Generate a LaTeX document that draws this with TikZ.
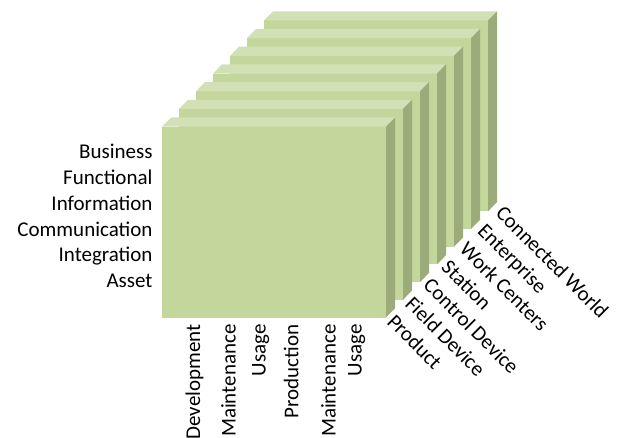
\documentclass[tikz,border=0pt]{standalone}
\usepackage{fontspec}
\setmainfont{Carlito}
\definecolor{slabfront}{HTML}{C3D69B}
\definecolor{slabtop}{HTML}{D2E1B5}
\definecolor{slabside}{HTML}{9BAC7A}
\begin{document}
\begin{tikzpicture}[x=1pt,y=-1pt,
  lbl/.style={font=\fontsize{21}{25}\selectfont, inner sep=0pt, text=black},
  layerlbl/.style={lbl, anchor=base east},
  phaselbl/.style={lbl, rotate=90, anchor=base east},
  levellbl/.style={lbl, rotate=-45, anchor=base west}]
\useasboundingbox (0,0) rectangle (620,438);

% stacked slabs, drawn from the back one to the front one
\foreach \k in {6,5,...,0}{
  \begin{scope}[shift={(17*\k,-17.7*\k)}]
    \fill[slabfront] (162,126.7) rectangle (386,317.5);
    \fill[slabtop] (162,126.7) -- (171,117.5) -- (395,117.5) -- (386,126.7) -- cycle;
    \fill[slabside] (386,126.7) -- (395,117.5) -- (395,308.3) -- (386,317.5) -- cycle;
  \end{scope}
}

% layers
\node[layerlbl] (business)      at (152.7,159.0) {Business};
\node[layerlbl] (functional)    at (152.7,184.7) {Functional};
\node[layerlbl] (information)   at (152.7,210.4) {Information};
\node[layerlbl] (communication) at (152.7,236.1) {Communication};
\node[layerlbl] (integration)   at (152.7,261.8) {Integration};
\node[layerlbl] (asset)         at (152.7,287.5) {Asset};

% life cycle
\node[phaselbl] (development) at (200.0,324.3) {Development};
\node[phaselbl] (maintenanceA) at (235.7,324.3) {Maintenance};
\node[phaselbl] (usageA)       at (265.7,324.3) {Usage};
\node[phaselbl] (production)   at (298.3,324.3) {Production};
\node[phaselbl] (maintenanceB) at (335.7,324.3) {Maintenance};
\node[phaselbl] (usageB)       at (361.7,324.3) {Usage};

% hierarchy levels
\foreach \txt [count=\i from 0] in {Product,Field Device,Control Device,Station,Work Centers,Enterprise,Connected World}{
  \node[levellbl] (level\i) at (386+18.1*\i,323-18.1*\i) {\txt};
}
\end{tikzpicture}
\end{document}
